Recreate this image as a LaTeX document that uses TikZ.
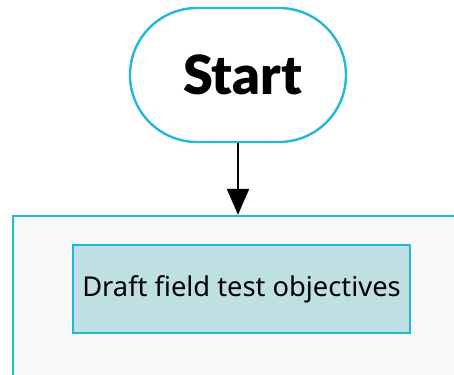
\documentclass[tikz,border=0pt]{standalone}
\usepackage{fontspec}
\setmainfont{Noto Sans}
\newfontfamily\headfont{Lato}[UprightFont=* Black]
\usetikzlibrary{arrows.meta}
\definecolor{edgecyan}{HTML}{22B8D8}
\definecolor{panelgray}{HTML}{F8F9F9}
\definecolor{boxteal}{HTML}{BFE0E3}
\tikzset{
  terminal/.style={draw=edgecyan, line width=2.4pt, fill=white, rounded corners=67pt,
    minimum width=216pt, minimum height=134pt, inner sep=0pt,
    font=\headfont\fontsize{54}{54}\selectfont},
  panel/.style={draw=edgecyan, line width=2.4pt, fill=panelgray,
    minimum width=457pt, minimum height=184pt, inner sep=0pt},
  taskbox/.style={draw=edgecyan, line width=2.4pt, fill=boxteal,
    minimum width=337pt, minimum height=88pt, inner sep=0pt,
    font=\fontsize{27.3}{27.3}\selectfont},
  flow/.style={line width=2.2pt, -{Triangle[length=26pt,width=22pt]}}
}
\begin{document}
\begin{tikzpicture}[x=1pt,y=-1pt]
  \useasboundingbox (0,0) rectangle (454,374);
  \clip (0,0) rectangle (454,374);
  \node[terminal] (start) at (238,75) {\hspace*{9pt}Start};
  \node[panel] (lane) at (241.5,308) {};
  \node[taskbox] (draft) at (241.5,289) {Draft field test objectives};
  \draw[flow] (start.south) -- (start.south |- lane.north);
\end{tikzpicture}
\end{document}
